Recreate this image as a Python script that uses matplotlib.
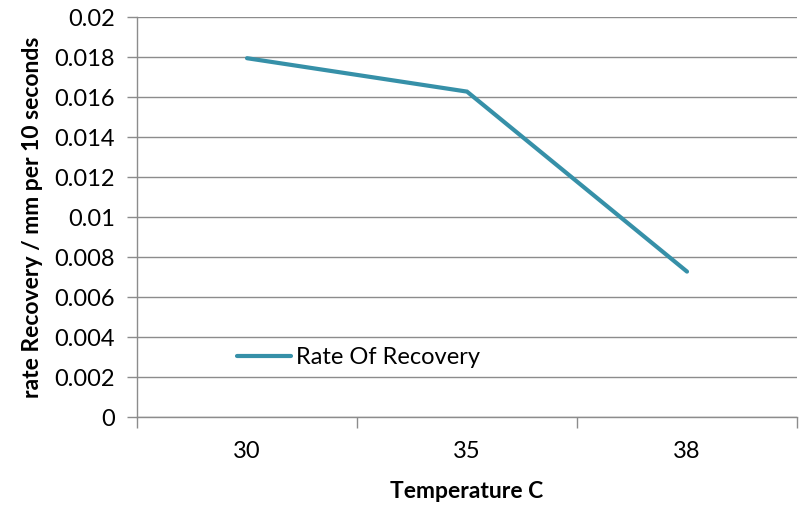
import numpy as np
import matplotlib.pyplot as plt

temps = ["30", "35", "38"]
rate = [0.01794, 0.01627, 0.00727]
yticks = [0, 0.002, 0.004, 0.006, 0.008, 0.01, 0.012, 0.014, 0.016, 0.018, 0.02]
ytick_labels = ["0", "0.002", "0.004", "0.006", "0.008", "0.01", "0.012", "0.014", "0.016", "0.018", "0.02"]

plt.rcParams['font.family'] = ['Lato', 'DejaVu Sans']
fs = 17
line_col = "#3690a8"
grid_col = "#8c8c8c"

fig = plt.figure(figsize=(8.03, 5.05), dpi=100)
ax = fig.add_axes([137/803, 1-417/505, 660/803, 400/505])

x = np.arange(len(temps))
ax.plot(x, rate, color=line_col, lw=3.0, solid_capstyle='round', solid_joinstyle='miter', label="Rate Of Recovery", zorder=3)

ax.set_xlim(-0.5, len(temps) - 0.5)
ax.set_ylim(0, 0.02)
ax.set_yticks(yticks)
ax.set_yticklabels(ytick_labels, fontsize=fs)
ax.set_xticks(x)
ax.set_xticklabels(temps, fontsize=fs)
ax.set_xticks(np.arange(len(temps) + 1) - 0.5, minor=True)
ax.tick_params(axis='x', which='major', length=0, pad=17)
ax.tick_params(axis='x', which='minor', length=8, width=1, color=grid_col)
ax.tick_params(axis='y', length=7, width=1, color=grid_col, pad=9)

ax.grid(axis='y', color=grid_col, lw=1)
ax.set_axisbelow(True)
for s in ['top', 'right']:
    ax.spines[s].set_visible(False)
for s in ['left', 'bottom']:
    ax.spines[s].set_color(grid_col)
    ax.spines[s].set_linewidth(1)

ax.set_ylabel("rate Recovery / mm per 10 seconds", fontsize=16.5, fontweight='bold', labelpad=8)
ax.set_xlabel("Temperature C", fontsize=16.5, fontweight='bold', labelpad=14)

ax.legend(loc='center left', bbox_to_anchor=(0.1515, 0.1475), frameon=False, fontsize=fs,
          handlelength=2.3, handletextpad=0.2, borderpad=0, borderaxespad=0)

fig.savefig("out.png", dpi=100)
